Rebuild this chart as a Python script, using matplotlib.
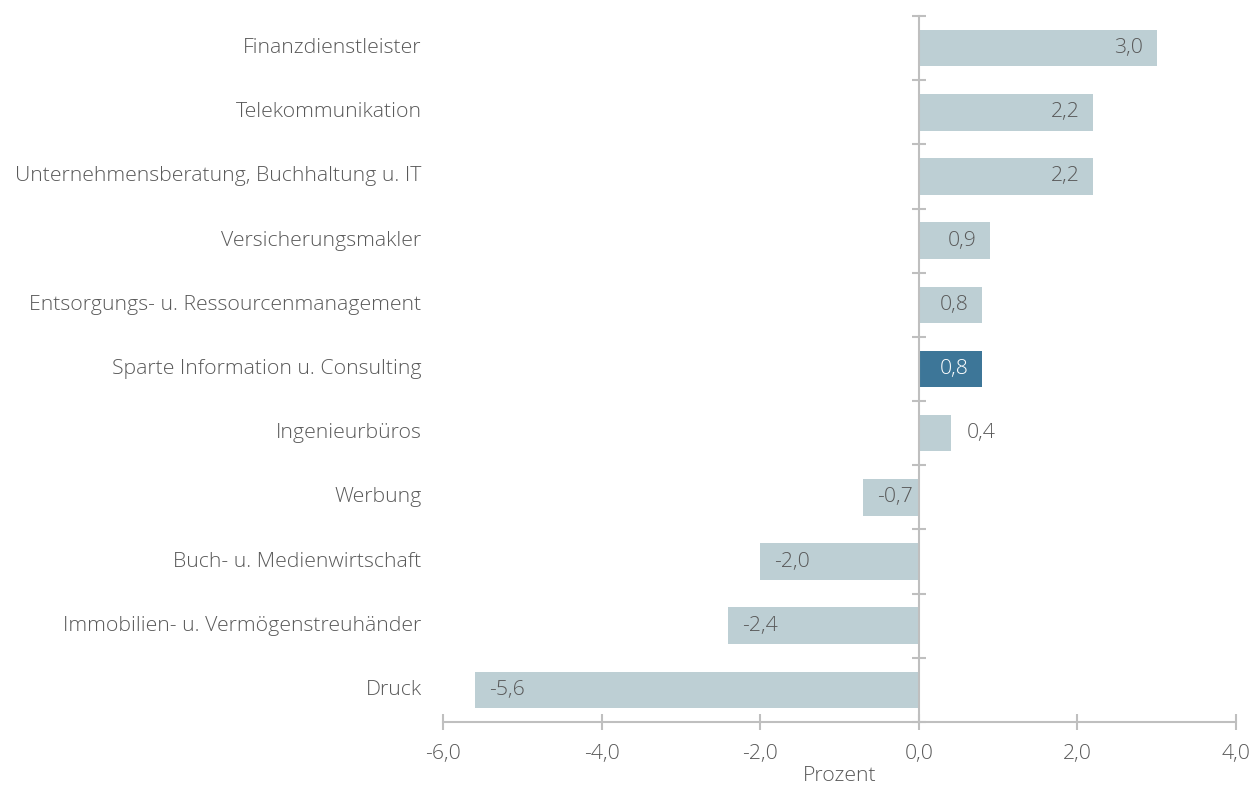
import numpy as np
import matplotlib.pyplot as plt
from matplotlib.ticker import FixedLocator

plt.rcParams['font.family'] = ['Open Sans', 'DejaVu Sans']
plt.rcParams['font.weight'] = 'light'
plt.rcParams['axes.labelweight'] = 'light'

categories = ['Finanzdienstleister',
              'Telekommunikation',
              'Unternehmensberatung, Buchhaltung u. IT',
              'Versicherungsmakler',
              'Entsorgungs- u. Ressourcenmanagement',
              'Sparte Information u. Consulting',
              'Ingenieurbüros',
              'Werbung',
              'Buch- u. Medienwirtschaft',
              'Immobilien- u. Vermögenstreuhänder',
              'Druck']
values = [3.0, 2.2, 2.2, 0.9, 0.8, 0.8, 0.4, -0.7, -2.0, -2.4, -5.6]
highlight = 'Sparte Information u. Consulting'

light = '#bdcfd4'
dark = '#3d7698'
text_col = '#595959'
axis_col = '#bfbfbf'
fs = 15.3

fig = plt.figure(figsize=(12.51, 7.85), dpi=100)
ax = fig.add_axes([0.3541, 0.0803, 0.6339, 0.8993])

y = np.arange(len(categories))
colors = [dark if c == highlight else light for c in categories]
ax.barh(y, values, height=0.57, color=colors, zorder=2)

for yi, v, c in zip(y, values, categories):
    lab = f'{v:.1f}'.replace('.', ',')
    col = 'white' if c == highlight else text_col
    if abs(v) < 0.6:
        ax.annotate(lab, (v, yi), xytext=(12, 0), textcoords='offset points',
                    ha='left', va='center', fontsize=fs, color=col)
    elif v > 0:
        ax.annotate(lab, (v, yi), xytext=(-10, 0), textcoords='offset points',
                    ha='right', va='center', fontsize=fs, color=col)
    else:
        ax.annotate(lab, (v, yi), xytext=(10, 0), textcoords='offset points',
                    ha='left', va='center', fontsize=fs, color=col)

ax.set_xlim(-6, 4)
ax.set_ylim(len(categories) - 0.5, -0.5)
ax.set_xticks([-6, -4, -2, 0, 2, 4])
ax.set_xticklabels([f'{t:.1f}'.replace('.', ',') for t in [-6, -4, -2, 0, 2, 4]])

for s in ['top', 'right']:
    ax.spines[s].set_visible(False)
ax.spines['left'].set_position(('data', 0))
ax.spines['left'].set_color(axis_col)
ax.spines['left'].set_linewidth(1.5)
ax.spines['bottom'].set_color(axis_col)
ax.spines['bottom'].set_linewidth(1.5)
ax.spines['left'].set_zorder(3)

ax.set_yticks([])
ax.yaxis.set_minor_locator(FixedLocator(np.arange(-0.5, len(categories), 1)))
ax.tick_params(axis='y', which='minor', direction='inout', length=10,
               width=1.5, color=axis_col)
ax.tick_params(axis='x', direction='inout', length=12, width=1.5,
               color=axis_col, labelcolor=text_col, labelsize=fs, pad=10)

for yi, c in zip(y, categories):
    ax.text(-6.27, yi, c, ha='right', va='center', fontsize=fs, color=text_col)

ax.set_xlabel('Prozent', fontsize=fs, color=text_col, fontweight='light', labelpad=1)

fig.savefig('out.png', dpi=100)
